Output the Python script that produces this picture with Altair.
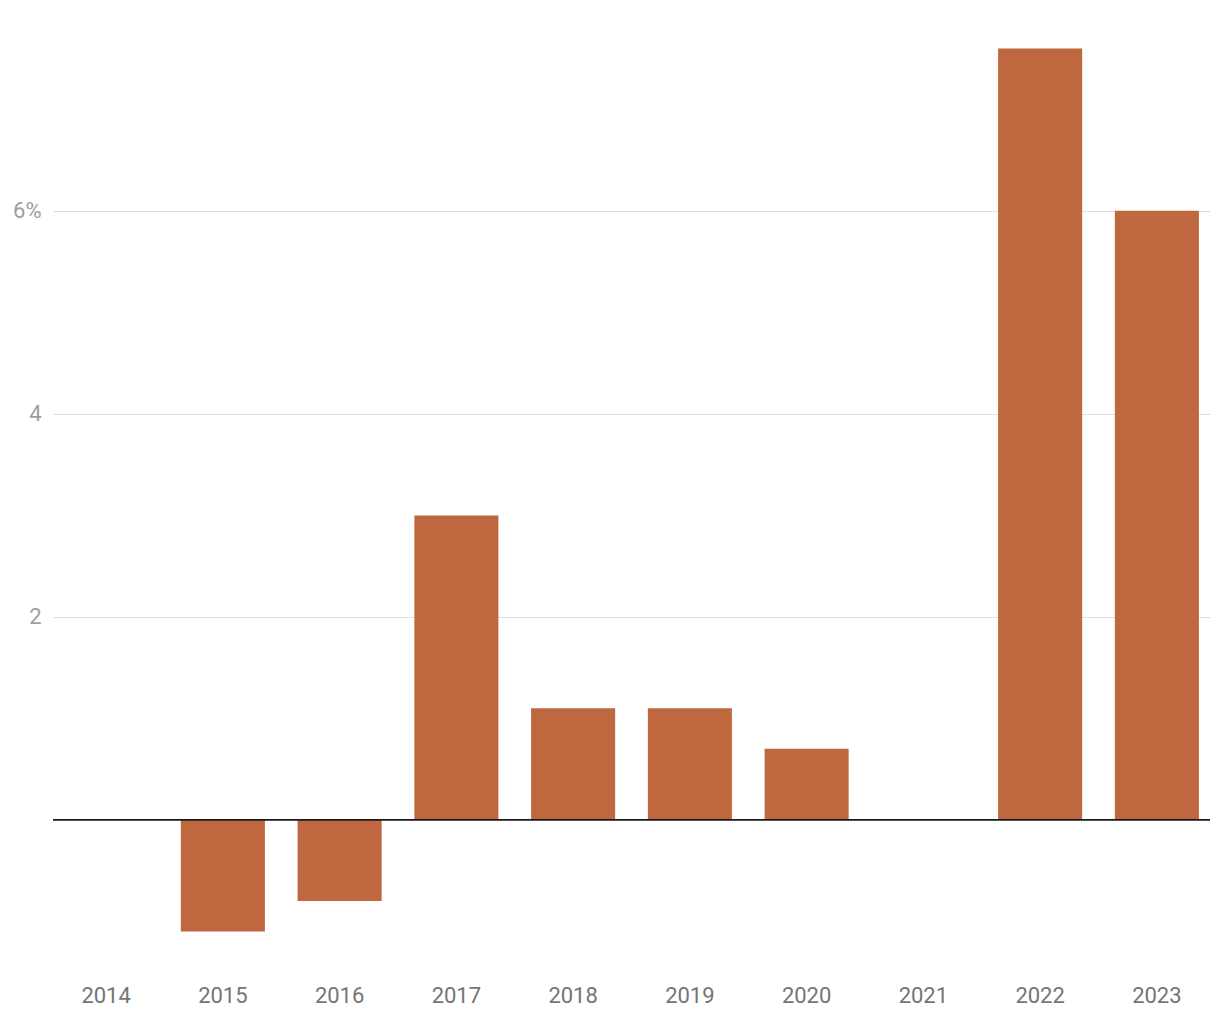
import altair as alt
import pandas as pd

years = ["2014", "2015", "2016", "2017", "2018", "2019", "2020", "2021", "2022", "2023"]
values = [0.0, -1.1, -0.8, 3.0, 1.1, 1.1, 0.7, 0.0, 7.6, 6.0]

df = pd.DataFrame({"year": years, "value": values})

font = "Roboto"

bars = alt.Chart(df).mark_bar(color="#bf673f").encode(
    x=alt.X(
        "year:N",
        sort=years,
        scale=alt.Scale(paddingInner=0.28, paddingOuter=0.095),
        axis=alt.Axis(
            title=None, domain=False, ticks=False, labelAngle=0,
            labelFont=font, labelFontSize=22, labelColor="#757575",
            labelPadding=25,
        ),
    ),
    y=alt.Y(
        "value:Q",
        scale=alt.Scale(domain=[-1.38, 7.88], nice=False, zero=False),
        axis=alt.Axis(
            title=None, domain=False, ticks=False, values=[2, 4, 6],
            labelExpr="datum.value == 6 ? '6%' : format(datum.value, 'd')",
            labelFont=font, labelFontSize=22, labelColor="#9e9e9e",
            labelPadding=12, grid=True, gridColor="#dedede", gridWidth=1,
        ),
    ),
)

zero = alt.Chart(pd.DataFrame({"z": [0]})).mark_rule(color="#1a1a1a", strokeWidth=1.7).encode(
    y="z:Q"
)

chart = (
    alt.layer(bars, zero)
    .properties(
        width=1157,
        height=940,
        autosize=alt.AutoSizeParams(type="none"),
        padding={"left": 53, "top": 20, "right": 10, "bottom": 60},
        background="white",
    )
    .configure_view(strokeWidth=0)
)

chart.save("out.html", embed_options={"renderer": "svg", "actions": False})
